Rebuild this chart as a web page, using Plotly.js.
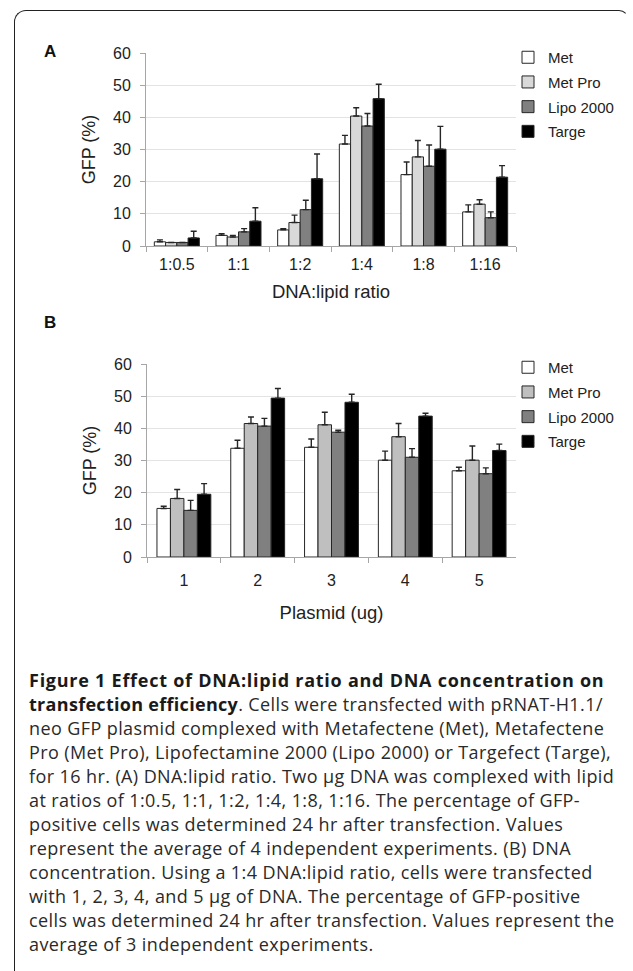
<!DOCTYPE html>
<html>
<head>
<meta charset="utf-8">
<script src="https://cdn.plot.ly/plotly-3.0.1.min.js"></script>
<style>
  html, body { margin: 0; padding: 0; background: #fff; }
  #wrap { position: relative; width: 633px; height: 971px; overflow: hidden; }
  #chart { position: absolute; left: 0; top: 0; width: 633px; height: 971px; }
  #frame { position: absolute; left: 14px; top: 10px; width: 613px; height: 1000px;
           border-top: 1.5px solid #222; border-left: 1.5px solid #222; border-right: 1.5px solid transparent;
           border-top-left-radius: 12px; border-top-right-radius: 10px; }
  #caption { position: absolute; left: 29px; top: 668px; width: 600px;
             font-family: "Open Sans", "Noto Sans", sans-serif; font-size: 18px; letter-spacing: 0.4px; color: #2a2a2a; }
  #caption div { height: 24px; line-height: 24px; white-space: nowrap; }
  #caption b { font-weight: 700; color: #1a1a1a; letter-spacing: 0.3px; }
  #caption div.head b { letter-spacing: 0.75px; }
</style>
</head>
<body>
<div id="wrap">
  <div id="frame"></div>
  <div id="chart"></div>
  <div id="caption">
    <div class="head"><b>Figure 1 Effect of DNA:lipid ratio and DNA concentration on</b></div>
    <div><b>transfection efficiency</b>. Cells were transfected with pRNAT-H1.1/</div>
    <div>neo GFP plasmid complexed with Metafectene (Met), Metafectene</div>
    <div>Pro (Met Pro), Lipofectamine 2000 (Lipo 2000) or Targefect (Targe),</div>
    <div>for 16 hr. (A) DNA:lipid ratio. Two µg DNA was complexed with lipid</div>
    <div>at ratios of 1:0.5, 1:1, 1:2, 1:4, 1:8, 1:16. The percentage of GFP-</div>
    <div>positive cells was determined 24 hr after transfection. Values</div>
    <div>represent the average of 4 independent experiments. (B) DNA</div>
    <div>concentration. Using a 1:4 DNA:lipid ratio, cells were transfected</div>
    <div>with 1, 2, 3, 4, and 5 µg of DNA. The percentage of GFP-positive</div>
    <div>cells was determined 24 hr after transfection. Values represent the</div>
    <div>average of 3 independent experiments.</div>
  </div>
</div>
<script>
// ---- Data ----
const seriesNames = ['Met', 'Met Pro', 'Lipo 2000', 'Targe'];

const categoriesA = ['1:0.5', '1:1', '1:2', '1:4', '1:8', '1:16'];
const metA      = [1.3, 3.3, 5.0, 31.7, 22.2, 10.6];
const metProA   = [1.1, 2.8, 7.3, 40.4, 27.7, 13.0];
const lipoA     = [1.1, 4.4, 11.3, 37.3, 24.8, 8.8];
const targeA    = [2.5, 7.7, 20.9, 45.8, 30.1, 21.4];
const metErrA    = [0.6, 0.5, 0.4, 2.7, 3.9, 2.2];
const metProErrA = [0.0, 0.5, 2.3, 2.6, 5.1, 1.4];
const lipoErrA   = [0.0, 1.0, 2.9, 3.9, 6.6, 1.8];
const targeErrA  = [2.1, 4.2, 7.7, 4.5, 7.1, 3.6];

const categoriesB = ['1', '2', '3', '4', '5'];
const metB      = [15.1, 33.8, 34.1, 30.1, 26.8];
const metProB   = [18.2, 41.5, 41.1, 37.4, 30.1];
const lipoB     = [14.5, 40.7, 38.8, 31.0, 25.9];
const targeB    = [19.5, 49.4, 48.1, 43.8, 33.1];
const metErrB    = [0.7, 2.5, 2.6, 2.8, 1.1];
const metProErrB = [2.8, 2.0, 3.9, 4.1, 4.4];
const lipoErrB   = [3.1, 2.4, 0.6, 2.7, 1.8];
const targeErrB  = [3.3, 3.0, 2.5, 0.9, 2.0];

// ---- Styles ----
const colorsA = ['#ffffff', '#d9d9d9', '#808080', '#000000'];
const colorsB = ['#ffffff', '#bfbfbf', '#808080', '#000000'];
const FONT = '"Liberation Sans", Arial, sans-serif';

function mk(cats, vals, errs, i, colors, xa, ya, leg) {
  return {
    type: 'bar', x: cats, y: vals, name: seriesNames[i],
    xaxis: xa, yaxis: ya, legend: leg, legendgroup: leg + i,
    marker: { color: colors[i], line: { color: '#262626', width: 1 } },
    error_y: { type: 'data', symmetric: false, array: errs, arrayminus: errs.map(() => 0),
               color: '#262626', thickness: 1.4, width: 3 },
    hoverinfo: 'x+y+name'
  };
}

const dataA = [metA, metProA, lipoA, targeA];
const errA = [metErrA, metProErrA, lipoErrA, targeErrA];
const dataB = [metB, metProB, lipoB, targeB];
const errB = [metErrB, metProErrB, lipoErrB, targeErrB];

const traces = [];
for (let i = 0; i < 4; i++) traces.push(mk(categoriesA, dataA[i], errA[i], i, colorsA, 'x', 'y', 'legend'));
for (let i = 0; i < 4; i++) traces.push(mk(categoriesB, dataB[i], errB[i], i, colorsB, 'x2', 'y2', 'legend2'));

const W = 633, H = 971;
const px = v => v / W, py = v => 1 - v / H;

const xCommon = {
  type: 'category', showline: true, linecolor: '#a6a6a6', linewidth: 1,
  ticks: 'outside', tickson: 'boundaries', ticklen: 5, tickcolor: '#a6a6a6',
  tickfont: { family: FONT, size: 16, color: '#222' }, showgrid: false, zeroline: false,
  fixedrange: true
};
const yCommon = {
  range: [0, 60], dtick: 10, showline: true, linecolor: '#a6a6a6', linewidth: 1,
  ticks: 'outside', ticklen: 5, tickcolor: '#a6a6a6', ticklabelstandoff: 6,
  tickfont: { family: FONT, size: 16, color: '#222' },
  gridcolor: '#e3e3e3', gridwidth: 1, zeroline: false, fixedrange: true
};

const legendCommon = {
  xanchor: 'left', yanchor: 'top', bgcolor: 'rgba(0,0,0,0)',
  font: { family: FONT, size: 15, color: '#222' }, tracegroupgap: 2.2,
  itemwidth: 30, traceorder: 'grouped'
};

const layout = {
  width: W, height: H, margin: { l: 0, r: 0, t: 0, b: 0 },
  paper_bgcolor: 'rgba(0,0,0,0)', plot_bgcolor: 'rgba(0,0,0,0)',
  font: { family: FONT, color: '#222' },
  barmode: 'group', bargap: 0.27, bargroupgap: 0,
  showlegend: true,
  xaxis: Object.assign({}, xCommon, { domain: [px(146), px(516)], anchor: 'y', ticklabelstandoff: 4,
    title: { text: 'DNA:lipid ratio', font: { family: FONT, size: 18.5, color: '#222' }, standoff: 12 } }),
  yaxis: Object.assign({}, yCommon, { domain: [py(246), py(53)], anchor: 'x',
    title: { text: 'GFP (%)', font: { family: FONT, size: 18, color: '#222' }, standoff: 12 } }),
  xaxis2: Object.assign({}, xCommon, { domain: [px(147), px(516)], anchor: 'y2', ticklabelstandoff: 9,
    title: { text: 'Plasmid (ug)', font: { family: FONT, size: 18.5, color: '#222' }, standoff: 17 } }),
  yaxis2: Object.assign({}, yCommon, { domain: [py(557), py(364)], anchor: 'x2',
    title: { text: 'GFP (%)', font: { family: FONT, size: 18, color: '#222' }, standoff: 12 } }),
  legend: Object.assign({}, legendCommon, { x: px(508), y: py(41) }),
  legend2: Object.assign({}, legendCommon, { x: px(508), y: py(351) }),
  annotations: [
    { text: '<b>A</b>', xref: 'paper', yref: 'paper', x: px(50), y: py(52), xanchor: 'center', yanchor: 'middle',
      showarrow: false, font: { family: FONT, size: 17, color: '#111' } },
    { text: '<b>B</b>', xref: 'paper', yref: 'paper', x: px(50), y: py(323), xanchor: 'center', yanchor: 'middle',
      showarrow: false, font: { family: FONT, size: 17, color: '#111' } }
  ]
};

Plotly.newPlot('chart', traces, layout, { displayModeBar: false, staticPlot: true });
</script>
</body>
</html>
